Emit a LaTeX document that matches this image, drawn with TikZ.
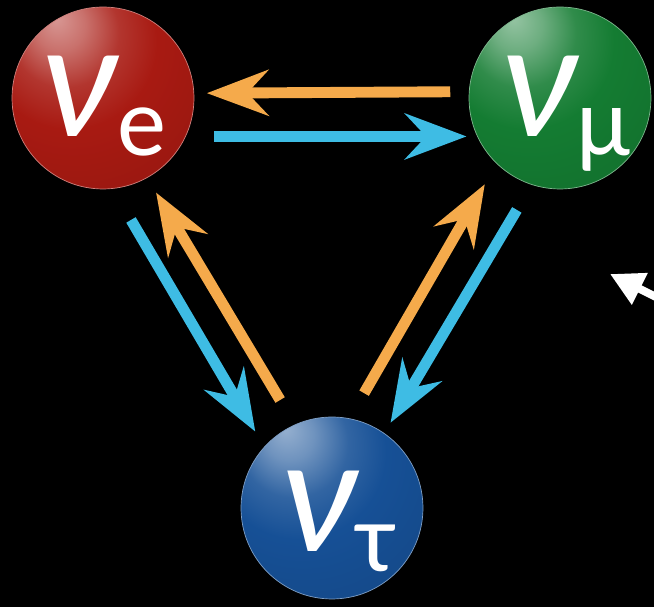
\documentclass[tikz,border=0pt]{standalone}
\usepackage{fontspec}
\newfontfamily\nufont{Carlito}
\usetikzlibrary{arrows.meta,positioning,calc}
\definecolor{nuered}{RGB}{168,26,18}
\definecolor{numugreen}{RGB}{20,124,50}
\definecolor{nutaublue}{RGB}{22,80,150}
\definecolor{oscorange}{RGB}{245,170,75}
\definecolor{osccyan}{RGB}{62,188,228}

% soft glossy ball, light spot up left
\newcommand\ballshading[2]{%
  \pgfdeclareradialshading{#1}{\pgfqpoint{-13bp}{22bp}}{%
    color(0bp)=(#2!45!white); color(7bp)=(#2!62!white);
    color(15bp)=(#2!88!white); color(24bp)=(#2);
    color(60bp)=(#2!82!black); color(80bp)=(#2!62!black)}}
\ballshading{redball}{nuered}
\ballshading{greenball}{numugreen}
\ballshading{blueball}{nutaublue}

% flavour label: subscript, right shift, baseline drop
\newcommand\flav[3]{%
  \smash{\raisebox{-#3}{\hspace*{#2}\nufont\fontsize{96}{96}\selectfont
    \itshape ν\upshape\kern1pt\raisebox{-11pt}{\fontsize{56}{56}\selectfont #1}}}}

\begin{document}
\begin{tikzpicture}[x=0.02cm, y=-0.02cm,
    sphere/.style={circle, minimum size=3.64cm, inner sep=0pt, outer sep=0pt,
                   text=white, line width=0.4pt},
    flow/.style={line width=6.2pt, -{Stealth[length=35pt, width=26pt, inset=12pt]}},
    toorange/.style={flow, oscorange},
    tocyan/.style={flow, osccyan},
    pointer/.style={white, line width=4.5pt, -{Triangle[length=19pt, width=19pt]}}
  ]
  \fill[black] (0,0) rectangle (654,607);
  \useasboundingbox (0,0) rectangle (654,607);

  \node[sphere, shade, shading=redball, draw=nuered!55!white] (nue) at (103,98) {\flav{e}{0pt}{22pt}};
  \node[sphere, shade, shading=greenball, draw=numugreen!55!white] (numu) at (560,98) {\flav{μ}{6pt}{22pt}};
  \node[sphere, shade, shading=blueball, draw=nutaublue!55!white] (nutau) at (332,508) {\flav{τ}{6pt}{25pt}};

  % e <-> mu
  \draw[toorange, shorten <=0.38cm, shorten >=0.26cm] (numu.176.2) -- (nue.3.3);
  \draw[tocyan, shorten <=0.58cm, shorten >=0.22cm] (nue.-25.4) -- (numu.205.4);
  % e <-> tau
  \draw[tocyan, shorten <=0.73cm, shorten >=0.36cm] (nue.-84.6) -- (nutau.138.3);
  \draw[toorange, shorten <=0.58cm, shorten >=0.35cm] (nutau.114) -- (nue.-61.8);
  % tau <-> mu
  \draw[toorange, shorten <=0.59cm, shorten >=0.48cm] (nutau.79.8) -- (numu.226.5);
  \draw[tocyan, shorten <=0.59cm, shorten >=0.25cm] (numu.252.8) -- (nutau.55.6);

  \coordinate (tip) at (610,274);
  \coordinate (tail) at (700,319);
  \draw[pointer] (tail) -- (tip);
\end{tikzpicture}
\end{document}
